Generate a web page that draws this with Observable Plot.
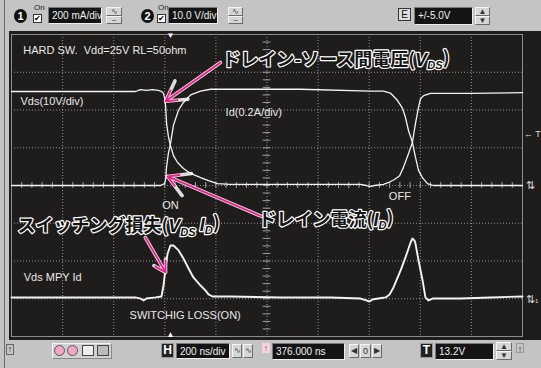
<!DOCTYPE html>
<html><head><meta charset="utf-8">
<script src="https://cdn.jsdelivr.net/npm/d3@7"></script>
<script src="https://cdn.jsdelivr.net/npm/@observablehq/plot@0.6"></script>
<style>
html,body{margin:0;padding:0;}
body{width:541px;height:368px;position:relative;overflow:hidden;background:#c4c4c4;font-family:"Liberation Sans",Arial,sans-serif;}
#screen{position:absolute;left:9px;top:31px;width:532px;height:309px;background:#1f1c1c;}
#chart{position:absolute;left:0;top:0;}
.a{position:absolute;box-sizing:border-box;}
.blk{background:#141414;color:#f0f0f0;font-size:10px;line-height:15px;padding-left:3px;border:1px solid #7a7a7a;border-right-color:#eee;border-bottom-color:#eee;white-space:nowrap;}
.btn{background:#d6d6d6;border:1px solid #6a6a6a;border-left-color:#f4f4f4;border-top-color:#f4f4f4;font-size:8px;line-height:7px;text-align:center;color:#333;}
.circ{background:#111;color:#fff;border-radius:50%;font-weight:bold;font-size:11px;text-align:center;line-height:14px;}
.chk{background:#fff;border:1px solid #333;font-size:8px;line-height:8px;text-align:center;color:#000;}
.on{font-size:8px;color:#222;line-height:8px;}
.mk{color:#ddd;font-size:9px;line-height:10px;}
</style></head>
<body>
<div id="screen"></div>
<div class="a" style="left:4px;top:0;width:1px;height:368px;background:#6a6a6a"></div>
<!-- top bar -->
<div class="a circ" style="left:14px;top:9px;width:13px;height:14px">1</div>
<div class="a on" style="left:34px;top:4px">On</div>
<div class="a chk" style="left:33px;top:14px;width:9px;height:9px">✔</div>
<div class="a blk" style="left:48px;top:7px;width:54px;height:17px">200 mA/div</div>
<div class="a btn" style="left:106px;top:7px;width:16px;height:9px">∿</div>
<div class="a btn" style="left:106px;top:16px;width:16px;height:8px">~</div>
<div class="a circ" style="left:141px;top:9px;width:13px;height:14px">2</div>
<div class="a on" style="left:158px;top:4px">On</div>
<div class="a chk" style="left:157px;top:14px;width:9px;height:9px">✔</div>
<div class="a blk" style="left:168px;top:7px;width:50px;height:17px">10.0 V/div</div>
<div class="a btn" style="left:228px;top:7px;width:15px;height:9px">∿</div>
<div class="a btn" style="left:228px;top:16px;width:15px;height:8px">~</div>
<div class="a" style="left:398px;top:8px;width:13px;height:13px;background:#ddd;border:1px solid #333;font-size:10px;line-height:11px;text-align:center;color:#111">E</div>
<div class="a blk" style="left:414px;top:7px;width:59px;height:18px;line-height:16px">+/-5.0V</div>
<div class="a btn" style="left:475px;top:7px;width:15px;height:9px;line-height:8px">▲</div>
<div class="a btn" style="left:475px;top:16px;width:15px;height:9px;line-height:8px">▼</div>
<!-- right markers -->
<div class="a mk" style="left:524px;top:129px">← T</div>
<div class="a mk" style="left:526px;top:180px;font-size:11px">⇅</div>
<div class="a mk" style="left:526px;top:294px;font-size:11px">⇅<span style="font-size:6px">1</span></div>
<!-- bottom bar -->
<div class="a" style="left:6px;top:344px;width:8px;height:11px;border:1px solid #666;font-size:9px;line-height:9px;text-align:center;color:#222">↑</div>
<div class="a" style="left:52px;top:343px;width:60px;height:16px;background:#d2d2d2;border:1px solid #888;border-left-color:#f4f4f4;border-top-color:#f4f4f4"></div>
<div class="a" style="left:54px;top:345px;width:11px;height:11px;border-radius:50%;background:#f3a7c8;border:1px solid #555"></div>
<div class="a" style="left:67px;top:345px;width:11px;height:11px;border-radius:50%;background:#f3a7c8;border:1px solid #555"></div>
<div class="a" style="left:82px;top:345px;width:12px;height:11px;background:#eee;border:1px solid #444"></div>
<div class="a" style="left:97px;top:345px;width:12px;height:11px;background:#bbb;border:1px solid #444"></div>
<div class="a" style="left:161px;top:343px;width:13px;height:15px;background:#222;border:1px solid #999;color:#fff;font-weight:bold;font-size:12px;line-height:13px;text-align:center">H</div>
<div class="a blk" style="left:176px;top:343px;width:54px;height:16px">200 ns/div</div>
<div class="a btn" style="left:232px;top:344px;width:10px;height:14px;line-height:12px">∿</div>
<div class="a btn" style="left:243px;top:344px;width:10px;height:14px;line-height:12px">∿</div>
<div class="a" style="left:262px;top:343px;width:8px;height:10px;background:#f7d3e2;font-size:9px;line-height:10px;text-align:center;color:#b02060">↑</div>
<div class="a blk" style="left:272px;top:343px;width:73px;height:17px">376.000 ns</div>
<div class="a btn" style="left:349px;top:344px;width:10px;height:14px;line-height:12px">◀</div>
<div class="a btn" style="left:360px;top:344px;width:11px;height:14px;line-height:12px;font-size:9px">0</div>
<div class="a btn" style="left:372px;top:344px;width:10px;height:14px;line-height:12px">▶</div>
<div class="a" style="left:420px;top:343px;width:13px;height:15px;background:#222;border:1px solid #999;color:#fff;font-weight:bold;font-size:12px;line-height:13px;text-align:center">T</div>
<div class="a blk" style="left:435px;top:343px;width:59px;height:17px">13.2V</div>
<div class="a btn" style="left:496px;top:342px;width:16px;height:9px;line-height:8px">▲</div>
<div class="a btn" style="left:496px;top:351px;width:16px;height:9px;line-height:8px">▼</div>
<div class="a" style="left:516px;top:343px;width:8px;height:10px;font-size:9px;line-height:10px;text-align:center;color:#333;border:1px solid #999">↑</div>
<div id="chart"></div>
<script>
// Time axis: 200 ns/div, 10 divisions; y in screen divisions (-4..4)
// Drain-source voltage Vds [ns, V] (10 V/div, ground at centre line)
const vdsPoints = [[0,24.9],[348,24.9],[485,24.9],[505,25.4],[528,25.2],[552,25.4],[575,25.2],[587,24.9],[595,24.4],[599,23.3],[603,21.2],[607,16.4],[614,13.0],[622,10.6],[634,7.9],[650,6.1],[673,4.5],[701,3.2],[740,2.1],[771,1.3],[806,0.5],[857,0.3],[1131,0.3],[1366,0.3],[1389,0],[1401,-0.3],[1421,0],[1456,0.3],[1476,0.8],[1499,1.6],[1519,2.6],[1534,4.8],[1554,8.5],[1569,11.4],[1581,16.4],[1593,20.7],[1601,23.0],[1613,23.8],[1640,24.4],[1797,24.4],[2000,24.6]];
// Drain current Id [ns, A] (0.2 A/div, ground at centre line)
const idPoints = [[0,0],[348,0],[583,0],[599,0.01],[603,0.03],[607,0.10],[614,0.17],[622,0.22],[634,0.32],[654,0.40],[673,0.44],[701,0.48],[740,0.50],[779,0.51],[857,0.51],[1131,0.51],[1405,0.50],[1456,0.50],[1483,0.49],[1511,0.45],[1530,0.41],[1542,0.36],[1554,0.29],[1569,0.23],[1581,0.15],[1593,0.08],[1609,0.04],[1628,0.01],[1651,0],[2000,0]];
// Switching loss Vds*Id [ns, W] (2 W/div, ground 3 div below centre)
const lossPoints = [[0,0.07],[192,0.07],[348,0.07],[485,0.07],[505,0.01],[517,-0.09],[528,0.01],[564,0.07],[587,0.12],[595,0.70],[603,1.66],[611,2.40],[622,2.82],[634,2.82],[654,2.56],[673,2.13],[693,1.60],[712,1.13],[740,0.70],[759,0.44],[771,0.23],[787,0.12],[857,0.12],[1053,0.07],[1249,0.07],[1366,0.01],[1389,-0.09],[1401,-0.15],[1413,-0.04],[1436,0.01],[1464,0.07],[1480,0.23],[1495,0.60],[1523,1.50],[1542,2.19],[1562,2.98],[1569,3.19],[1577,3.09],[1581,2.93],[1593,2.03],[1609,0.97],[1620,0.07],[1632,-0.09],[1648,0.01],[1757,0.01],[1875,0.07],[2000,0.12]];
// Screen labels
const labelTexts = ["HARD SW.  Vdd=25V RL=50ohm","Vds(10V/div)","Id(0.2A/div)","ON","OFF","Vds MPY Id","SWITCHIG LOSS(ON)"];
const labelT = [46,35,838,590,1477,48,462];
const labelY = [3.59,2.23,1.93,-0.53,-0.30,-2.44,-3.45];
// Japanese annotations
const noteTexts = ["ドレイン-ソース間電圧(V_DS)","ドレイン電流(I_D)","スイッチング損失(V_DS I_D)"];
const noteT = [826,967,23];
const noteY = [3.31,-0.92,-1.09];
// Annotation arrows: from [t, y] to [t, y]
const arrowFrom = [[818,3.26],[979,-0.82],[524,-1.38]];
const arrowTo = [[603,2.23],[611,0.24],[603,-2.30]];
const triggerT = [622];

const labels = labelTexts.map((s,i)=>({s, t:labelT[i], y:labelY[i]}));
const notes = noteTexts.map((s,i)=>({s, t:noteT[i], y:noteY[i]}));
const arrows = arrowFrom.map((f,i)=>({x1:f[0],y1:f[1],x2:arrowTo[i][0],y2:arrowTo[i][1]}));
const grid = {stroke:"#a0a0a0", strokeDasharray:"1,2", strokeOpacity:0.9};
const trace = "#f4f4f4";
const pink = "#ea1e8c";

const plot = Plot.plot({
  width:541, height:368,
  marginLeft:11, marginRight:19, marginTop:34, marginBottom:32,
  x:{domain:[0,2000], axis:null},
  y:{domain:[-4,4], axis:null},
  style:{background:"transparent", overflow:"visible"},
  marks:[
    Plot.ruleX(d3.range(200,2000,200), grid),
    Plot.ruleY(d3.range(-3,4,1), grid),
    Plot.ruleX(d3.range(40,2000,40), {y1:-0.08, y2:0.08, stroke:"#a0a0a0"}),
    Plot.ruleY(d3.range(-3.8,4,0.2), {x1:985, x2:1015, stroke:"#a0a0a0"}),
    Plot.frame({stroke:"#8c8c8c"}),
    Plot.text(triggerT, {x:d=>d, y:4, text:()=>"▼", fill:"#fff", fontSize:8, dy:1}),
    Plot.text(triggerT, {x:d=>d, y:-4, text:()=>"▲", fill:"#fff", fontSize:8, dy:-2}),
    Plot.line(vdsPoints, {x:d=>d[0], y:d=>d[1]/10, stroke:trace, strokeWidth:1.3}),
    Plot.line(idPoints, {x:d=>d[0], y:d=>d[1]/0.2, stroke:trace, strokeWidth:1.3}),
    Plot.line(lossPoints, {x:d=>d[0], y:d=>-3 + d[1]/2, stroke:trace, strokeWidth:1.9}),
    Plot.text(labels, {x:"t", y:"y", text:"s", textAnchor:"start", fill:"#e8e8e8", fontSize:11, fontFamily:"Liberation Sans, Arial, sans-serif"}),
    Plot.arrow(arrows, {x1:"x1", y1:"y1", x2:"x2", y2:"y2", stroke:"#ffffff", strokeWidth:3.6, headLength:10, strokeOpacity:0.85}),
    Plot.arrow(arrows, {x1:"x1", y1:"y1", x2:"x2", y2:"y2", stroke:pink, strokeWidth:1.8, headLength:10}),
    Plot.text(notes, {x:"t", y:"y", text:"s", textAnchor:"start", fontSize:18, fontWeight:"bold", fontFamily:"Noto Sans CJK JP, sans-serif", fill:"#141414", stroke:"#ffffff", strokeWidth:2.4, paintOrder:"stroke"})
  ]
});

// Italic symbol with subscript (V_DS -> V + small DS)
d3.select(plot).selectAll("text").each(function(){
  const s = this.textContent;
  if (!s.includes("_")) return;
  const el = d3.select(this);
  el.text(null);
  const parts = s.split(/([A-Z])_([A-Z]+)/);
  let pending = null;
  const add = (txt) => { const t = el.append("tspan").text(txt); if (pending) { t.attr("dy", pending); pending = null; } return t; };
  for (let i = 0; i < parts.length; i += 3) {
    if (parts[i]) add(parts[i]);
    if (i + 1 < parts.length) {
      add(parts[i+1]).attr("font-style","italic").attr("font-family","Liberation Sans, Arial, sans-serif").attr("font-weight","bold");
      el.append("tspan").text(parts[i+2]).attr("dy","0.28em").attr("font-size","0.62em").attr("font-style","italic").attr("font-family","Liberation Sans, Arial, sans-serif").attr("font-weight","bold");
      pending = "-0.28em";
    }
  }
});
document.getElementById("chart").appendChild(plot);
</script>
</body></html>
